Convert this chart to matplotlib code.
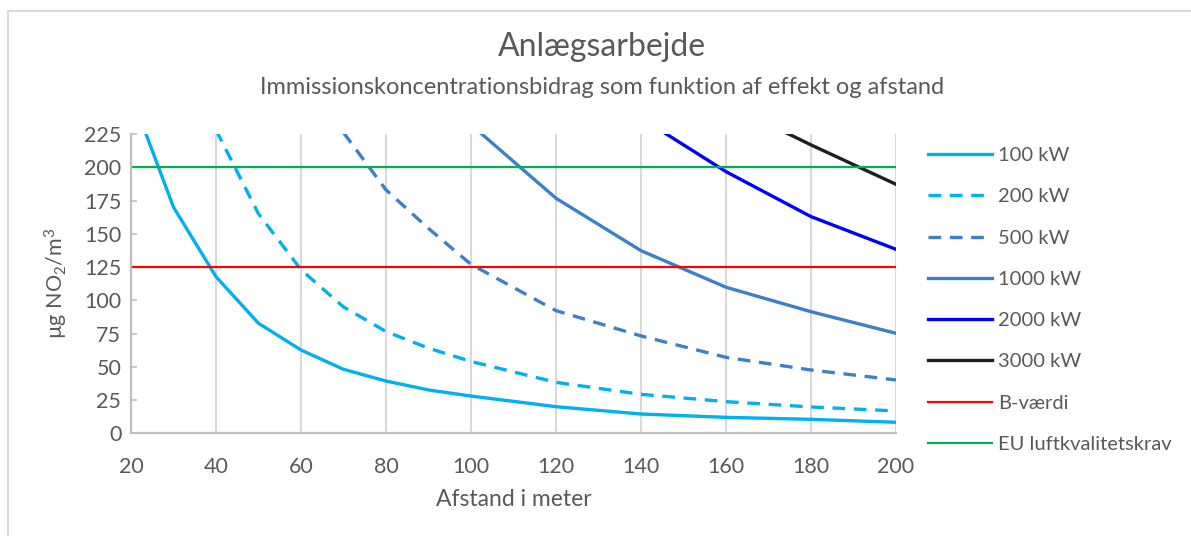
import numpy as np
import matplotlib
matplotlib.use("Agg")
import matplotlib.pyplot as plt
from matplotlib.lines import Line2D

nan = np.nan

# ---- data ----
distance = [20, 30, 40, 50, 60, 70, 80, 90, 100, 120, 140, 160, 180, 200]
kw100 = [255, 170, 117.7, 82.7, 62.6, 48.1, 39.3, 32.6, 28.0, 20.0, 14.5, 12.0, 10.5, 8.3]
kw200 = [nan, nan, 228, 165, 123, 95, 76.5, 64, 54, 38.3, 29.3, 23.8, 19.8, 16.8]
kw500 = [nan, nan, nan, nan, nan, 226, 183, 154, 127, 92.2, 73.2, 57.1, 47.6, 40.1]
kw1000 = [nan, nan, nan, nan, nan, nan, nan, nan, 232, 176.7, 137.3, 109.8, 91.4, 75.2]
kw2000 = [nan, nan, nan, nan, nan, nan, nan, nan, nan, nan, 237, 196.7, 162.9, 138.3]
kw3000 = [nan, nan, nan, nan, nan, nan, nan, nan, nan, nan, nan, 248, 216.8, 187.2]
b_vaerdi = 125
eu_krav = 200

series_labels = ["100 kW", "200 kW", "500 kW", "1000 kW", "2000 kW", "3000 kW",
                 "B-værdi", "EU luftkvalitetskrav"]
x_ticks = [20, 40, 60, 80, 100, 120, 140, 160, 180, 200]
y_ticks = [0, 25, 50, 75, 100, 125, 150, 175, 200, 225]

title = "Anlægsarbejde"
subtitle = "Immissionskoncentrationsbidrag som funktion af effekt og afstand"
xlabel = "Afstand i meter"
ylabel = r"µg NO$_\mathregular{2}$/m$^\mathregular{3}$"

# ---- style ----
plt.rcParams['font.family'] = ['Lato', 'DejaVu Sans']
plt.rcParams['mathtext.fontset'] = 'custom'
plt.rcParams['mathtext.rm'] = 'Lato'
plt.rcParams['mathtext.it'] = 'Lato'
text_col = '#595959'

W, H = 1191, 536
fig = plt.figure(figsize=(W / 100, H / 100), dpi=100)
ax = fig.add_axes([131 / W, 1 - 433.3 / H, (896 - 131) / W, (433.3 - 134) / H])

c_light = '#00b0f0'
c_mid = '#3b80c8'
lw_main = 2.4

ax.plot(distance, kw100, color=c_light, lw=lw_main, label=series_labels[0])
ax.plot(distance, kw200, color=c_light, lw=lw_main, ls=(0, (3.8, 2.6)), label=series_labels[1])
ax.plot(distance, kw500, color=c_mid, lw=lw_main, ls=(0, (3.8, 2.6)), label=series_labels[2])
ax.plot(distance, kw1000, color=c_mid, lw=lw_main, label=series_labels[3])
ax.plot(distance, kw2000, color='#0000ff', lw=lw_main, label=series_labels[4])
ax.plot(distance, kw3000, color='#1e1e1e', lw=lw_main, label=series_labels[5])
ax.plot(distance, [b_vaerdi] * len(distance), color='#ff0000', lw=1.6, label=series_labels[6])
ax.plot(distance, [eu_krav] * len(distance), color='#00b050', lw=1.6, label=series_labels[7])

ax.set_xlim(20, 200)
ax.set_ylim(0, 225)
ax.set_xticks(x_ticks)
ax.set_yticks(y_ticks)
ax.xaxis.grid(True, color='#d9d9d9', lw=1.5)
ax.set_axisbelow(True)

for s in ['top', 'right']:
    ax.spines[s].set_visible(False)
for s in ['left', 'bottom']:
    ax.spines[s].set_color('#bfbfbf')
    ax.spines[s].set_linewidth(1.6)

ax.tick_params(axis='y', direction='in', length=4, width=1.2, color='#bfbfbf',
               labelsize=15.5, labelcolor=text_col, pad=7)
ax.tick_params(axis='x', length=0, labelsize=15.5, labelcolor=text_col, pad=17)

ax.set_xlabel(xlabel, fontsize=16.5, color=text_col, labelpad=8.5)
ax.set_ylabel(ylabel, fontsize=15.5, color=text_col, labelpad=10)

fig.text(602 / W, 1 - 47 / H, title, ha='center', va='center', fontsize=23, color=text_col)
fig.text(602 / W, 1 - 88 / H, subtitle, ha='center', va='center', fontsize=17, color=text_col)

leg = fig.legend(loc='upper left', bbox_to_anchor=(928 / W, 1 - 147 / H),
                 frameon=False, fontsize=14.5, handlelength=3.2, handletextpad=0.3,
                 labelspacing=1.2, borderpad=0, borderaxespad=0)
for t in leg.get_texts():
    t.set_color(text_col)

# outer chart border (light gray)
fig.add_artist(Line2D([8 / W, 1], [1 - 11 / H, 1 - 11 / H], transform=fig.transFigure,
                      color='#d9d9d9', lw=1.5))
fig.add_artist(Line2D([8 / W, 8 / W], [0, 1 - 11 / H], transform=fig.transFigure,
                      color='#d9d9d9', lw=1.5))

fig.savefig('out.png', dpi=100)
